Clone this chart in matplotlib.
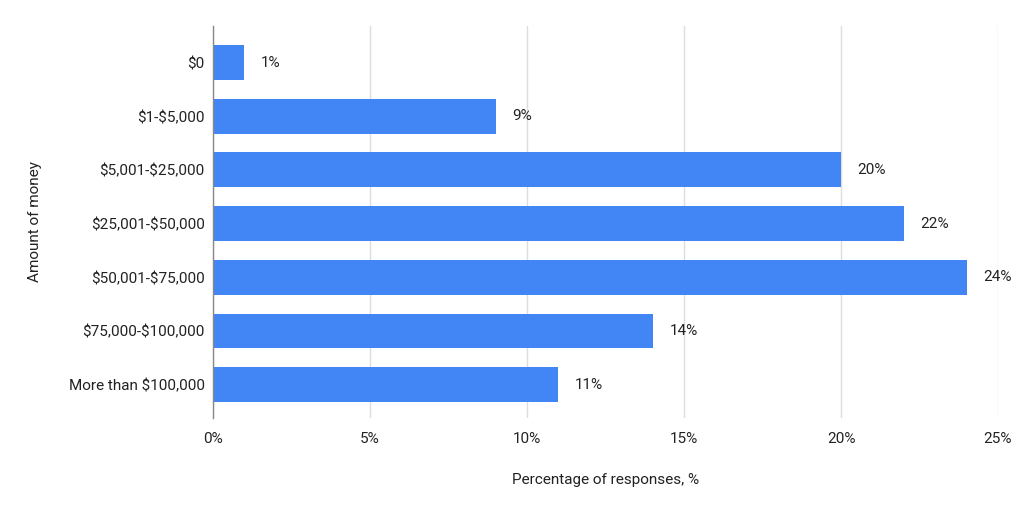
import matplotlib
matplotlib.use("Agg")
import matplotlib.pyplot as plt

categories = ["$0", "$1-$5,000", "$5,001-$25,000", "$25,001-$50,000",
              "$50,001-$75,000", "$75,000-$100,000", "More than $100,000"]
values = [1, 9, 20, 22, 24, 14, 11]
xticks = [0, 5, 10, 15, 20, 25]
xtick_labels = ["0%", "5%", "10%", "15%", "20%", "25%"]

plt.rcParams['font.family'] = ['Roboto', 'DejaVu Sans']
plt.rcParams['text.parse_math'] = False
TXT = '#222222'
FS = 11

fig = plt.figure(figsize=(10.24, 5.16), dpi=100)
W, H = 1024, 516
ax = fig.add_axes([213 / W, 1 - 418 / H, 785 / W, (418 - 26) / H])

y = list(range(len(categories)))
ax.barh(y, values, height=0.65, color='#4285F4', zorder=3)
for yi, v in zip(y, values):
    ax.annotate(f"{v}%", (v, yi), xytext=(12, 0), textcoords='offset points',
                va='center', ha='left', fontsize=FS, color=TXT, clip_on=False)

ax.set_xlim(0, 25)
ax.set_ylim(6.62, -0.68)
ax.set_yticks(y)
ax.set_yticklabels(categories, fontsize=FS, color=TXT)
ax.set_xticks(xticks)
ax.set_xticklabels(xtick_labels, fontsize=FS, color=TXT)
ax.tick_params(axis='both', length=0)
ax.tick_params(axis='y', pad=6)
ax.tick_params(axis='x', pad=10)

ax.grid(axis='x', color='#dddddd', linewidth=1, zorder=0)
for s in ['top', 'right', 'bottom']:
    ax.spines[s].set_visible(False)
ax.spines['left'].set_color('#888888')
ax.spines['left'].set_linewidth(1)
ax.spines['left'].set_zorder(4)

ax.set_xlabel("Percentage of responses, %", fontsize=FS, color=TXT)
ax.xaxis.set_label_coords((606 - 213) / 785, -(480 - 418) / 392)
ax.xaxis.label.set_va('center')
ax.set_ylabel("Amount of money", fontsize=FS, color=TXT)
ax.yaxis.set_label_coords(-(213 - 35) / 785, 0.5)
ax.yaxis.label.set_va('center')

fig.savefig("out.png", dpi=100, facecolor='white')
